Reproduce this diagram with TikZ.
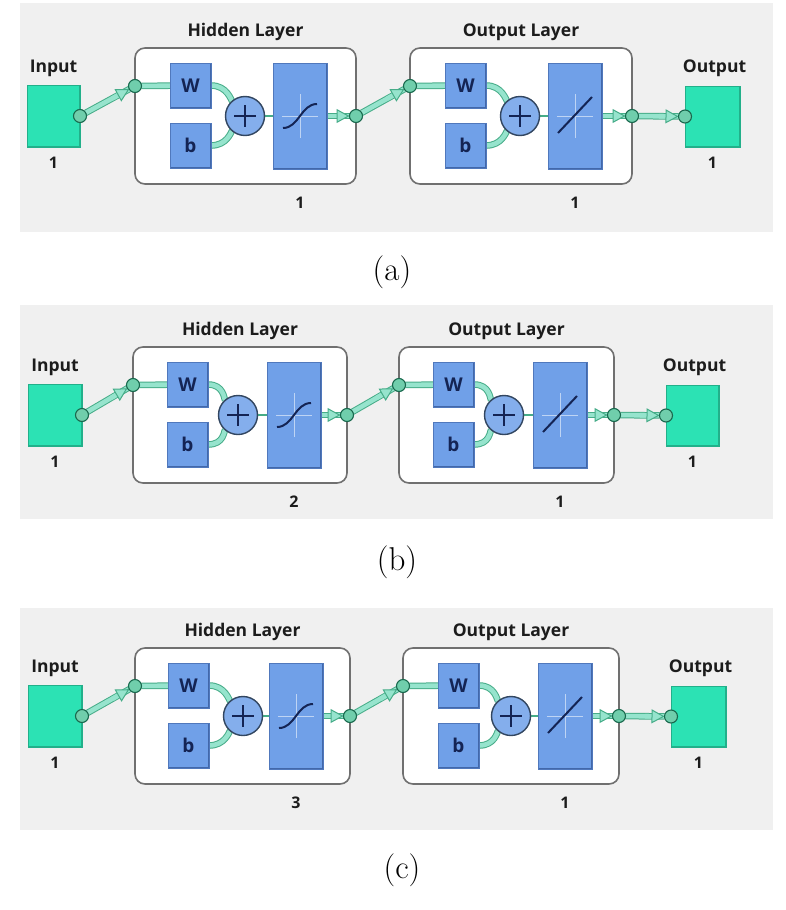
\documentclass[tikz,border=0pt]{standalone}
\usepackage{fontspec}
\newfontfamily\labfont{Open Sans}
\usetikzlibrary{calc,arrows.meta}
\pgfdeclarelayer{bg}
\pgfdeclarelayer{conn}
\pgfsetlayers{bg,conn,main}
\definecolor{bggray}{RGB}{240,240,240}
\definecolor{boxedge}{RGB}{112,112,112}
\definecolor{blkblue}{RGB}{112,160,232}
\definecolor{blkedge}{RGB}{80,120,188}
\definecolor{blkhi}{RGB}{160,196,245}
\definecolor{blklo}{RGB}{66,104,170}
\definecolor{plusfill}{RGB}{132,174,236}
\definecolor{plusedge}{RGB}{50,70,96}
\definecolor{sqfill}{RGB}{44,226,180}
\definecolor{sqedge}{RGB}{34,176,138}
\definecolor{sqhi}{RGB}{120,240,208}
\definecolor{connlight}{RGB}{150,228,205}
\definecolor{conndark}{RGB}{70,172,136}
\definecolor{portfill}{RGB}{112,206,172}
\definecolor{portedge}{RGB}{25,105,78}
\definecolor{navy}{RGB}{20,36,84}
\definecolor{labtext}{RGB}{28,28,28}
\tikzset{
  panelbg/.style={fill=bggray, draw=none},
  layerbox/.style={draw=boxedge, line width=1.6pt, fill=white, rounded corners=10pt, inner sep=0pt, outer sep=0pt},
  blk/.style={draw=blkedge, line width=0.8pt, fill=blkblue, inner sep=0pt, outer sep=0pt, text=navy,
    font=\labfont\bfseries\fontsize{19}{19}\selectfont,
    path picture={
      \draw[blkhi, line width=2.4pt] (path picture bounding box.south west) -- (path picture bounding box.north west) -- (path picture bounding box.north east);
      \draw[blklo, line width=3pt] (path picture bounding box.south west) -- (path picture bounding box.south east) -- (path picture bounding box.north east);}},
  sq/.style={draw=sqedge, line width=1pt, fill=sqfill, inner sep=0pt, outer sep=0pt,
    path picture={
      \draw[sqhi, line width=2.4pt] (path picture bounding box.south west) -- (path picture bounding box.north west) -- (path picture bounding box.north east);
      \draw[sqedge, line width=3pt] (path picture bounding box.south west) -- (path picture bounding box.south east) -- (path picture bounding box.north east);}},
  port/.style={circle, draw=portedge, line width=1.1pt, fill=portfill, minimum size=13pt, inner sep=0pt, outer sep=0pt},
  plusc/.style={circle, draw=plusedge, line width=1.4pt, fill=plusfill, minimum size=39pt, inner sep=0pt, outer sep=0pt},
  plusln/.style={draw=navy, line width=2.6pt},
  band/.style={draw=connlight, line width=4.6pt, preaction={draw=conndark, line width=6.6pt}},
  thinln/.style={draw=conndark, line width=1.6pt},
  tipln/.style={draw=connlight, line width=4.6pt,
    -{Triangle[length=13pt,width=14pt,line width=1pt,color=conndark,fill=connlight]}},
  axisln/.style={draw=white, draw opacity=0.55, line width=0.9pt},
  fnln/.style={draw=navy, line width=2pt},
  lab/.style={font=\labfont\bfseries\fontsize{17.5}{17.5}\selectfont, text=labtext, inner sep=0pt},
  numtxt/.style={font=\labfont\bfseries\fontsize{16}{16}\selectfont, text=labtext, inner sep=0pt},
  captxt/.style={font=\fontsize{33}{36}\selectfont, inner sep=0pt},
}
\newcommand\boxnode[7]{\node[#1, minimum width={(#5)-(#3)}, minimum height={(#6)-(#4)}] (#2) at ({((#3)+(#5))/2},{((#4)+(#6))/2}) {#7};}
% #1 prefix, #2 top of layer boxes, #3 bg top, #4 bg bottom, #5 hidden size, #6 caption
\newcommand\nnpanel[6]{%
  \begin{pgfonlayer}{bg}
    \path[panelbg] (20,#3) rectangle (773,#4);
    \boxnode{layerbox}{#1H}{\xHa}{#2}{\xHb}{#2+136}{}
    \boxnode{layerbox}{#1O}{\xOa}{#2}{\xOb}{#2+136}{}
  \end{pgfonlayer}
  \boxnode{sq}{#1in}{\xIa}{#2+37}{\xIb}{#2+99}{}
  \boxnode{sq}{#1out}{\xQa}{#2+38}{\xQb}{#2+99}{}
  \boxnode{blk}{#1W}{\xWa}{#2+15}{\xWa+41}{#2+60}{W}
  \boxnode{blk}{#1b}{\xWa}{#2+75}{\xWa+41}{#2+120}{b}
  \boxnode{blk}{#1S}{\xSa}{#2+15}{\xSa+54}{#2+121}{}
  \boxnode{blk}{#1WW}{\xWWa}{#2+15}{\xWWa+41}{#2+60}{W}
  \boxnode{blk}{#1bb}{\xWWa}{#2+75}{\xWWa+41}{#2+120}{b}
  \boxnode{blk}{#1L}{\xLa}{#2+15}{\xLa+54}{#2+121}{}
  \node[plusc] (#1P) at ({\xP},{#2+68}) {};
  \node[plusc] (#1PP) at ({\xPP},{#2+68}) {};
  \draw[plusln] ($(#1P)+(-11,0)$) -- ($(#1P)+(11,0)$) ($(#1P)+(0,-11)$) -- ($(#1P)+(0,11)$);
  \draw[plusln] ($(#1PP)+(-11,0)$) -- ($(#1PP)+(11,0)$) ($(#1PP)+(0,-11)$) -- ($(#1PP)+(0,11)$);
  % transfer functions
  \draw[axisln] ($(#1S)+(-18,0)$) -- ($(#1S)+(18,0)$) ($(#1S)+(0,-22)$) -- ($(#1S)+(0,22)$);
  \draw[fnln] ($(#1S)+(-17,12)$) .. controls ($(#1S)+(-1,12)$) and ($(#1S)+(1,-12)$) .. ($(#1S)+(17,-12)$);
  \draw[axisln] ($(#1L)+(-18,0)$) -- ($(#1L)+(18,0)$) ($(#1L)+(0,-22)$) -- ($(#1L)+(0,22)$);
  \draw[fnln] ($(#1L)+(-17,17)$) -- ($(#1L)+(17,-19)$);
  % ports
  \node[port] (#1pin) at (#1in.east) {};
  \node[port] (#1h1) at ({\xHa},{#2+38}) {};
  \node[port] (#1h2) at ({\xHb},{#2+68}) {};
  \node[port] (#1o1) at ({\xOa},{#2+38}) {};
  \node[port] (#1o2) at ({\xOb},{#2+68}) {};
  \node[port] (#1pout) at (#1out.west) {};
  % texts
  \node[lab] (#1tin) at ({(\xIa+\xIb)/2},{#2+20}) {Input};
  \node[lab] (#1tout) at ({(\xQa+\xQb)/2+2},{#2+20}) {Output};
  \node[numtxt] (#1nin) at ({(\xIa+\xIb)/2},{#2+115}) {1};
  \node[numtxt] (#1nout) at ({(\xQa+\xQb)/2},{#2+115}) {1};
  \node[lab] (#1thid) at ({(\xHa+\xHb)/2},{#2-16}) {Hidden Layer};
  \node[lab] (#1tol) at ({(\xOa+\xOb)/2},{#2-16}) {Output Layer};
  \node[numtxt] (#1nh) at ({\xSa+27},{#2+155}) {#5};
  \node[numtxt] (#1no) at ({\xLa+27},{#2+155}) {1};
  \node[captxt] (#1cap) at ({\capx},{\capy}) {#6};
  % connectors
  \begin{pgfonlayer}{conn}
    \draw[band] (#1pin) -- (#1h1);
    \draw[tipln] ($(#1h1)!26pt!(#1pin)$) -- (#1h1);
    \draw[band] (#1h1) -- (#1W);
    \draw[band] (#1W.east) .. controls ($(#1W.east)+(16,0)$) and ($(#1P)+(-14,-16)$) .. (#1P);
    \draw[band] (#1b.east) .. controls ($(#1b.east)+(16,0)$) and ($(#1P)+(-14,16)$) .. (#1P);
    \draw[thinln] (#1P) -- (#1S);
    \draw[band] (#1S) -- (#1h2);
    \draw[tipln] ($(#1h2)!26pt!(#1S)$) -- (#1h2);
    \draw[band] (#1h2) -- (#1o1);
    \draw[tipln] ($(#1o1)!26pt!(#1h2)$) -- (#1o1);
    \draw[band] (#1o1) -- (#1WW);
    \draw[band] (#1WW.east) .. controls ($(#1WW.east)+(16,0)$) and ($(#1PP)+(-14,-16)$) .. (#1PP);
    \draw[band] (#1bb.east) .. controls ($(#1bb.east)+(16,0)$) and ($(#1PP)+(-14,16)$) .. (#1PP);
    \draw[thinln] (#1PP) -- (#1L);
    \draw[band] (#1L) -- (#1o2);
    \draw[tipln] ($(#1o2)!26pt!(#1L)$) -- (#1o2);
    \draw[band] (#1o2) -- (#1pout);
    \draw[tipln] ($(#1pout)!26pt!(#1o2)$) -- (#1pout);
  \end{pgfonlayer}
}
\begin{document}
\begin{tikzpicture}[x=1pt,y=-1pt]
  \useasboundingbox (0,0) rectangle (786,910);
  % panel (a)
  \def\xIa{27}\def\xIb{80}\def\xHa{135}\def\xHb{356}\def\xWa{170}\def\xP{245}\def\xSa{273}
  \def\xOa{410}\def\xOb{632}\def\xWWa{445}\def\xPP{520}\def\xLa{548}\def\xQa{685}\def\xQb{740}
  \def\capx{392}\def\capy{272}
  \nnpanel{a}{48}{3}{232}{1}{(a)}
  % panel (b)
  \def\xIa{28}\def\xIb{82}\def\xHa{133}\def\xHb{347}\def\xWa{167}\def\xP{238}\def\xSa{267}
  \def\xOa{399}\def\xOb{614}\def\xWWa{433}\def\xPP{504}\def\xLa{533}\def\xQa{666}\def\xQb{719}
  \def\capx{397}\def\capy{562}
  \nnpanel{b}{347}{305}{519}{2}{(b)}
  % panel (c)
  \def\xIa{28}\def\xIb{82}\def\xHa{135}\def\xHb{350}\def\xWa{168}\def\xP{243}\def\xSa{269}
  \def\xOa{403}\def\xOb{619}\def\xWWa{438}\def\xPP{511}\def\xLa{538}\def\xQa{671}\def\xQb{726}
  \def\capx{402}\def\capy{870}
  \nnpanel{c}{648}{608}{830}{3}{(c)}
\end{tikzpicture}
\end{document}
